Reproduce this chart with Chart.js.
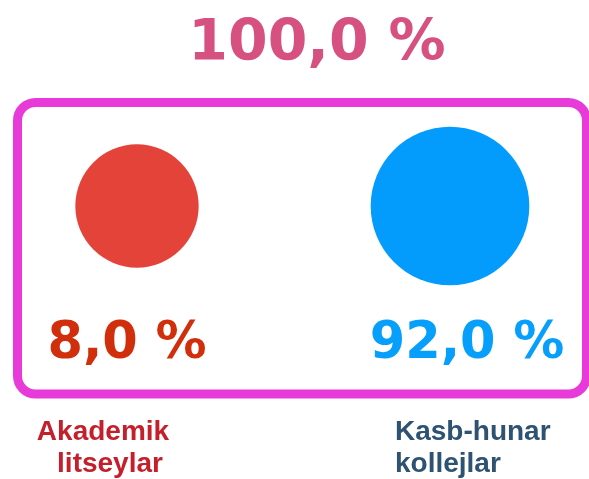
<!DOCTYPE html>
<html>
<head>
<meta charset="utf-8">
<script src="https://cdn.jsdelivr.net/npm/chart.js@4.4.1/dist/chart.umd.min.js"></script>
<style>
  html, body { margin: 0; padding: 0; background: #ffffff; }
  #wrap { width: 589px; height: 479px; position: relative; }
</style>
</head>
<body>
<div id="wrap"><canvas id="c" width="589" height="479"></canvas></div>
<script>
// ---- data ----
const categories = [["Akademik", "litseylar"], ["Kasb-hunar", "kollejlar"]];
const shares = [8.0, 92.0];
const bubbleColors = ["#e4433a", "#039cfd"];
const valueColors = ["#d12e0c", "#069ffb"];
const categoryColors = ["#c4202c", "#2d5272"];

function fmt(v) { return v.toFixed(1).replace('.', ',') + ' %'; }

const overlay = {
  id: 'overlay',
  beforeDatasetsDraw(chart) {
    const ctx = chart.ctx;
    ctx.save();
    ctx.strokeStyle = '#e83ad8';
    ctx.lineWidth = 9;
    ctx.beginPath();
    ctx.roundRect(17.5, 102.5, 569, 291.5, 18);
    ctx.stroke();
    ctx.restore();
  },
  afterDatasetsDraw(chart) {
    const ctx = chart.ctx;
    const meta = chart.getDatasetMeta(0);
    ctx.save();
    const total = shares.reduce((a, b) => a + b, 0);
    ctx.fillStyle = '#d6517f';
    ctx.font = 'bold 57px "DejaVu Sans"';
    ctx.textAlign = 'center';
    ctx.textBaseline = 'alphabetic';
    ctx.fillText(fmt(total), 317, 60);
    const valueOffsets = [-10, 17];
    ctx.font = 'bold 51px "DejaVu Sans"';
    meta.data.forEach((pt, i) => {
      ctx.fillStyle = valueColors[i];
      ctx.fillText(fmt(shares[i]), pt.x + valueOffsets[i], 358);
    });
    ctx.font = 'bold 28px "Liberation Sans"';
    meta.data.forEach((pt, i) => {
      ctx.fillStyle = categoryColors[i];
      const lines = categories[i];
      if (i === 0) {
        ctx.textAlign = 'center';
        lines.forEach((l, k) => ctx.fillText(l, pt.x - 34 + k * 7, 440 + k * 32));
      } else {
        ctx.textAlign = 'left';
        lines.forEach((l, k) => ctx.fillText(l, pt.x - 55, 440 + k * 32));
      }
    });
    ctx.restore();
  }
};

new Chart(document.getElementById('c'), {
  type: 'bubble',
  data: {
    labels: categories.map(c => c.join(' ')),
    datasets: [{
      data: shares.map((v, i) => ({ x: i, y: 0 })),
      backgroundColor: bubbleColors,
      borderWidth: 0,
      hoverBorderWidth: 0,
      clip: false,
      radius: (c) => 60 + shares[c.dataIndex] * 0.21
    }]
  },
  options: {
    responsive: false,
    animation: false,
    events: [],
    layout: { padding: { left: 137, right: 139, top: 106, bottom: 173 } },
    scales: {
      x: { type: 'linear', min: 0, max: 1, display: false },
      y: { type: 'linear', min: -1, max: 1, display: false }
    },
    plugins: {
      legend: { display: false },
      tooltip: { enabled: false },
      title: { display: false }
    }
  },
  plugins: [overlay]
});
</script>
</body>
</html>
